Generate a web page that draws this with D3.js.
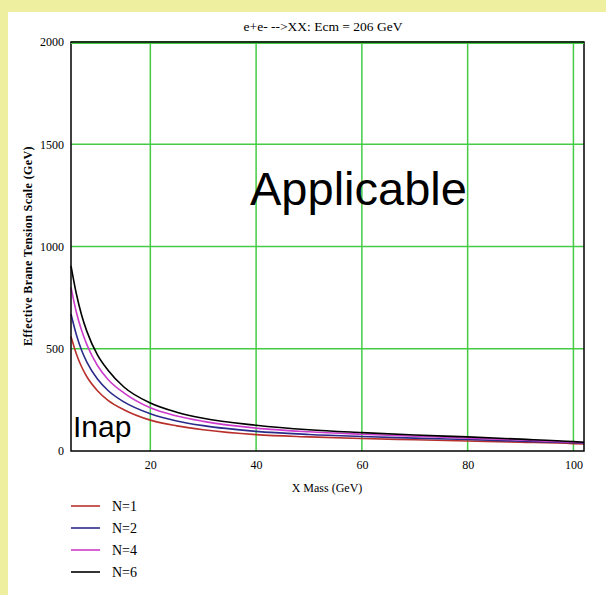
<!DOCTYPE html>
<html>
<head>
<meta charset="utf-8">
<script src="https://cdn.jsdelivr.net/npm/d3@7"></script>
<style>
  html, body { margin: 0; padding: 0; background: #ffffff; }
  svg { display: block; }
</style>
</head>
<body>
<svg id="chart" width="606" height="595"></svg>
<script>
// X mass values (GeV) at which the curves are sampled
const xMass = [5, 6, 7, 8, 10, 12, 15, 20, 25, 30, 40, 50, 60, 70, 80, 90, 100, 102];

// Effective brane tension scale (GeV) for each number of extra dimensions
const tensionN1 = [560, 476, 412, 363, 295, 248, 202, 151, 123, 104, 80, 69, 61, 55, 49, 43, 36, 34];
const tensionN2 = [670, 570, 493, 435, 352, 296, 240, 182, 147, 124, 96, 81, 71, 63, 56, 48, 40, 38];
const tensionN4 = [800, 680, 590, 520, 418, 350, 284, 211, 171, 145, 112, 94, 82, 72, 63, 54, 43, 41];
const tensionN6 = [905, 770, 665, 585, 470, 395, 313, 235, 190, 160, 126, 104, 90, 78, 69, 58, 46, 43];

const seriesNames = ["N=1", "N=2", "N=4", "N=6"];
const seriesColors = ["#b8302c", "#2a2a8a", "#cc3ccc", "#000000"];
const seriesValues = [tensionN1, tensionN2, tensionN4, tensionN6];

const xTicks = [20, 40, 60, 80, 100];
const yTicks = [0, 500, 1000, 1500, 2000];

const titleText = "e+e- -->XX: Ecm = 206 GeV";
const xLabel = "X Mass (GeV)";
const yLabel = "Effective Brane Tension Scale (GeV)";

const svg = d3.select("#chart");
const serif = "'Liberation Serif', 'DejaVu Serif', serif";
const sans = "'Liberation Sans', Arial, sans-serif";

// page background: pale yellow frame along the top and left
svg.append("rect").attr("x", 0).attr("y", 0).attr("width", 606).attr("height", 595).attr("fill", "#eef0a0");
svg.append("rect").attr("x", 8).attr("y", 12).attr("width", 598).attr("height", 583).attr("fill", "#ffffff");

const plot = { left: 71, right: 584, top: 42, bottom: 451 };

const x = d3.scaleLinear().domain([5, 102]).range([plot.left, plot.right]);
const y = d3.scaleLinear().domain([0, 2000]).range([plot.bottom, plot.top]);

// grid
const grid = svg.append("g");
grid.selectAll("line.vx").data(xTicks).join("line")
  .attr("x1", d => x(d)).attr("x2", d => x(d))
  .attr("y1", plot.top).attr("y2", plot.bottom)
  .attr("stroke", "#44cc44").attr("stroke-width", 1.5);
grid.selectAll("line.hy").data(yTicks.filter(d => d > 0)).join("line")
  .attr("x1", plot.left).attr("x2", plot.right)
  .attr("y1", d => y(d)).attr("y2", d => y(d))
  .attr("stroke", "#44cc44").attr("stroke-width", 1.5);

// axes (tick labels only; lines drawn as plot frame)
const xAxis = svg.append("g").attr("transform", `translate(0,${plot.bottom})`)
  .call(d3.axisBottom(x).tickValues(xTicks).tickSize(0).tickPadding(9).tickFormat(d3.format("d")));
const yAxis = svg.append("g").attr("transform", `translate(${plot.left},0)`)
  .call(d3.axisLeft(y).tickValues(yTicks).tickSize(0).tickPadding(7).tickFormat(d3.format("d")));
[xAxis, yAxis].forEach(a => {
  a.select(".domain").remove();
  a.selectAll("text").attr("font-family", serif).attr("font-size", 12).attr("fill", "#000");
});

// curves
const line = d3.line().x((d, i) => x(xMass[i])).y(d => y(d)).curve(d3.curveMonotoneX);
const curves = svg.append("g");
seriesValues.forEach((vals, k) => {
  curves.append("path").datum(vals)
    .attr("d", line)
    .attr("fill", "none")
    .attr("stroke", seriesColors[k])
    .attr("stroke-width", 1.6);
});

// frame
svg.append("rect")
  .attr("x", plot.left).attr("y", plot.top)
  .attr("width", plot.right - plot.left).attr("height", plot.bottom - plot.top)
  .attr("fill", "none").attr("stroke", "#000").attr("stroke-width", 1.5);
svg.append("line").attr("x1", plot.left).attr("x2", plot.right)
  .attr("y1", plot.top + 1.5).attr("y2", plot.top + 1.5)
  .attr("stroke", "#44cc44").attr("stroke-width", 1.2);

// titles
svg.append("text").attr("x", 323).attr("y", 31).attr("text-anchor", "middle")
  .attr("font-family", serif).attr("font-size", 13.5).text(titleText);
svg.append("text").attr("x", 327).attr("y", 492).attr("text-anchor", "middle")
  .attr("font-family", serif).attr("font-size", 12).text(xLabel);
svg.append("text").attr("transform", `translate(32,${(137 + 355) / 2}) rotate(-90)`)
  .attr("text-anchor", "middle").attr("font-family", serif).attr("font-size", 12)
  .attr("font-weight", "bold").attr("letter-spacing", 0.4).text(yLabel);

// region annotations
svg.append("text").attr("x", 250).attr("y", 205)
  .attr("font-family", sans).attr("font-size", 47).text("Applicable");
svg.append("text").attr("x", 73).attr("y", 437)
  .attr("font-family", sans).attr("font-size", 30).text("Inap");

// legend
const legend = svg.append("g");
seriesNames.forEach((name, k) => {
  const ly = 506 + k * 22;
  legend.append("line").attr("x1", 71).attr("x2", 100).attr("y1", ly).attr("y2", ly)
    .attr("stroke", seriesColors[k]).attr("stroke-width", 1.6);
  legend.append("text").attr("x", 112).attr("y", ly + 5)
    .attr("font-family", serif).attr("font-size", 14).text(name);
});
</script>
</body>
</html>
